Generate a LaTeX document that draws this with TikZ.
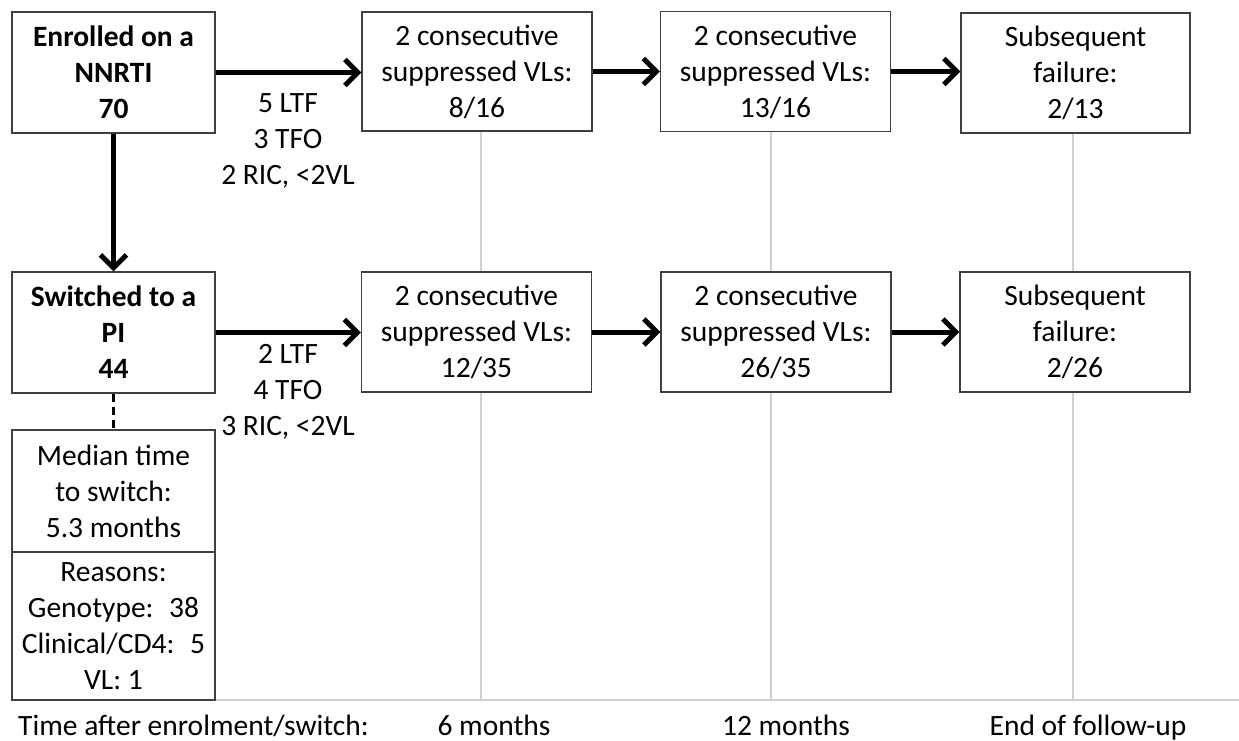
\documentclass[tikz,border=0pt]{standalone}
\usepackage{fontspec}
\setmainfont{Carlito}
\usetikzlibrary{arrows.meta,calc}
\begin{document}
\begin{tikzpicture}[x=1pt,y=-1pt,
  box/.style={draw=black!75,line width=1.3pt,fill=white,align=center,inner sep=0pt,
    font=\fontsize{29.5}{36}\selectfont},
  lbl/.style={align=center,inner sep=0pt,font=\fontsize{29.5}{36}\selectfont},
  flow/.style={line width=5pt,-{Straight Barb[length=13pt,width=26pt,line width=5pt]}},
  grid/.style={draw=black!18,line width=1.8pt}]
\useasboundingbox (0,0) rectangle (1239,740);
% gray time lines
\coordinate (g1) at (481,700);
\coordinate (g2) at (771,700);
\coordinate (g3) at (1073,700);
\coordinate (gr) at (1239,700);
\coordinate (gl) at (215,700);
\draw[grid] (481,131) -- (g1);
\draw[grid] (771,131) -- (g2);
\draw[grid] (1073,133) -- (g3);
\draw[grid] (gl) -- (gr);
% top row
\node[box,minimum width=203pt,minimum height=121pt] (b1) at (113.5,72.5) {\bfseries Enrolled on a\\\bfseries NNRTI\\\bfseries 70};
\node[box,minimum width=230pt,minimum height=119pt] (b2) at (477,71.5) {2 consecutive\\suppressed VLs:\\8/16};
\node[box,minimum width=230pt,minimum height=120pt] (b3) at (775.5,71.5) {2 consecutive\\suppressed VLs:\\13/16};
\node[box,minimum width=229pt,minimum height=120pt] (b4) at (1075.5,73) {Subsequent\\failure:\\2/13};
% bottom row
\node[box,minimum width=203pt,minimum height=121pt] (b5) at (113.5,332.5) {\bfseries Switched to a\\\bfseries PI\\\bfseries 44};
\node[box,minimum width=230pt,minimum height=120pt] (b6) at (476.5,332) {2 consecutive\\suppressed VLs:\\12/35};
\node[box,minimum width=230pt,minimum height=120pt] (b7) at (776,332) {2 consecutive\\suppressed VLs:\\26/35};
\node[box,minimum width=230pt,minimum height=120pt] (b8) at (1075,332) {Subsequent\\failure:\\2/26};
% median box
\node[box,minimum width=203pt,minimum height=122pt] (m1) at (113.5,491) {Median time\\to switch:\\5.3 months};
\node[box,minimum width=203pt,minimum height=148pt] (m2) at (113.5,626) {Reasons:\\Genotype:~ 38\\Clinical/CD4:~ 5\\VL: 1};
% arrows
\draw[flow] (b1.east) -- (b1.east -| b2.west);
\draw[flow] (b2.east) -- (b2.east -| b3.west);
\draw[flow] (b3.east) -- (b3.east -| b4.west);
\draw[flow] (b5.east) -- (b5.east -| b6.west);
\draw[flow] (b6.east) -- (b6.east -| b7.west);
\draw[flow] (b7.east) -- (b7.east -| b8.west);
\draw[flow] (b1.south) -- (b5.north);
\draw[line width=3pt,dash pattern=on 8pt off 5pt] (b5.south) -- (m1.north);
% labels
\node[lbl] (l1) at (288,141) {5 LTF\\3 TFO\\2 RIC, <2VL};
\node[lbl] (l2) at (288,392) {2 LTF\\4 TFO\\3 RIC, <2VL};
% time axis
\node[lbl,anchor=base west] (t0) at (18,735) {Time after enrolment/switch:};
\node[lbl,anchor=base] (t1) at (494,735) {6 months};
\node[lbl,anchor=base] (t2) at (786,735) {12 months};
\node[lbl,anchor=base] (t3) at (1088,735) {End of follow-up};
\end{tikzpicture}
\end{document}
